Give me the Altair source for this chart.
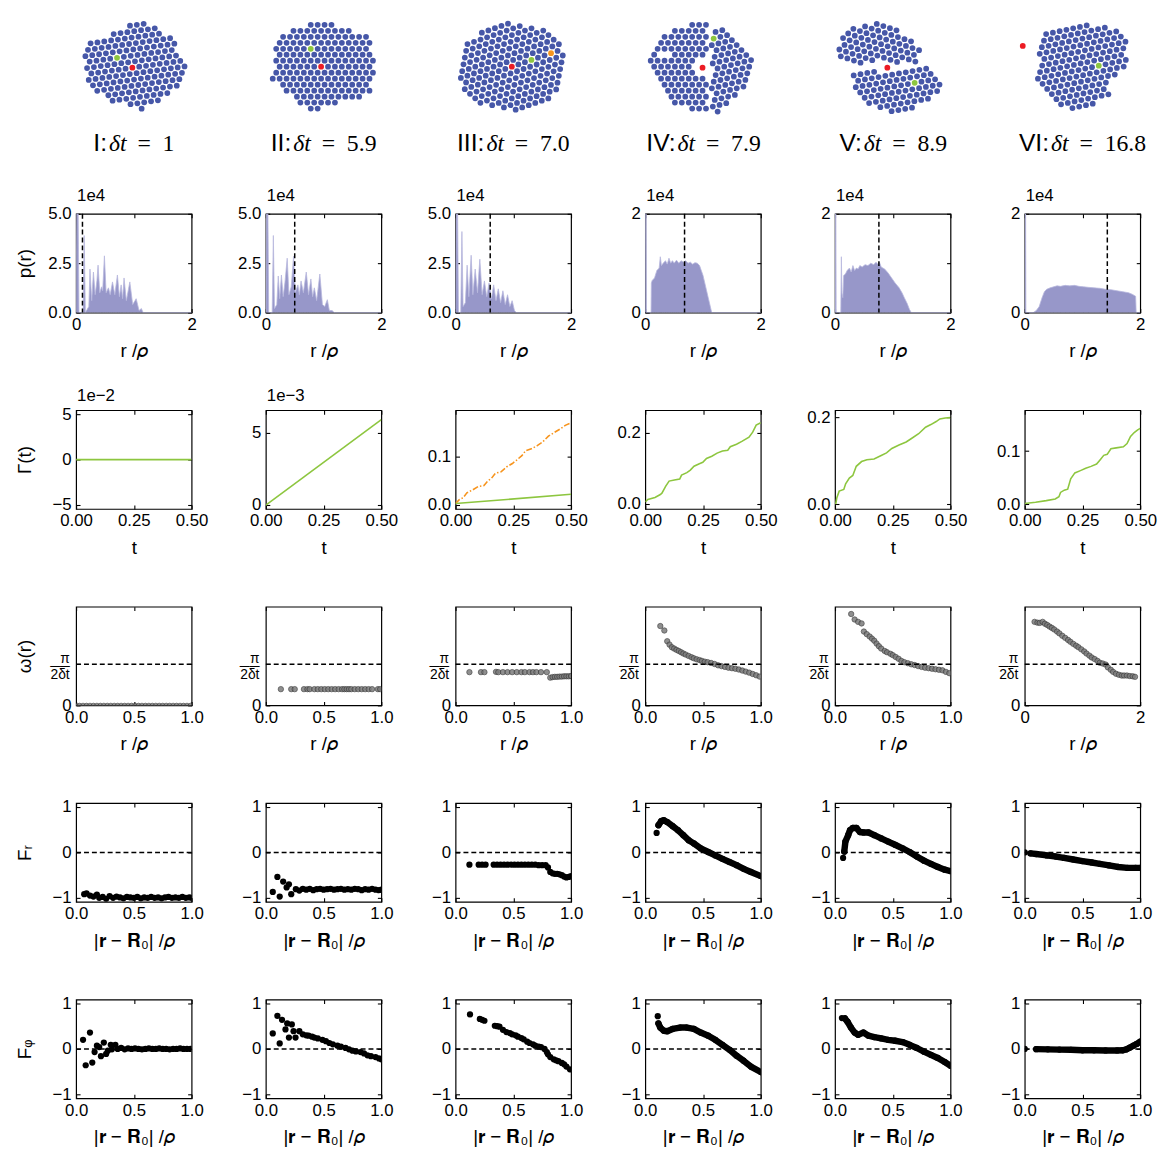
import math
import altair as alt
import pandas as pd

# ---------------- style ----------------
FONT = "Liberation Sans"
SERIF = "Liberation Serif"
W, H = 117, 100
SPX, SPY = 75.2, 99
TICK = 4
LBL, TTL = 17, 19
BLUE, RED, GREEN, ORANGE = "#4657a8", "#ec1c24", "#8dc63f", "#f7941d"
HIST_FILL, HIST_EDGE = "#9797c9", "#b8b8de"

# ---------------- snapshot data (positions in particle-panel units) ----------------
SNAP_ROMAN = ["I", "II", "III", "IV", "V", "VI"]
SNAP_DT = ["1", "5.9", "7.0", "7.9", "8.9", "16.8"]
LATTICE = 7.0

C1_OUTLINE = [(36, 82), (50, 89), (72, 93), (87, 85), (99, 73), (107, 56), (110, 47), (107, 32), (98, 28),
              (79, 13), (64, 8), (50, 13), (35, 18), (20, 25), (14, 34), (11, 52), (8, 70), (19, 74)]
C1_ANGLE = 8
C1_RED, C1_GREEN = (57, 49), (42, 62)

C2_OUTLINE = [(14, 82), (28, 85), (39, 89), (51, 93), (65, 92), (81, 85), (100, 83), (104, 75), (107, 59),
              (111, 45), (106, 32), (102, 23), (93, 21), (77, 18), (69, 14), (51, 7), (42, 9), (35, 16),
              (23, 25), (12, 33), (7, 37), (10, 52), (10, 66), (14, 75)]
C2_ANGLE = 0
C2_RED, C2_GREEN = (56, 50), (47, 66)

C3_OUTLINE = [(20, 80), (37, 90), (57, 93), (77, 91), (94, 85), (107, 72), (111, 55), (108, 38), (97, 22),
              (82, 10), (57, 7), (34, 10), (17, 18), (6, 32), (5, 50), (10, 68)]
C3_ANGLE = 19
C3_RED, C3_GREEN, C3_ORANGE = (57, 50), (78, 58), (98, 64)

C4_GRAIN_A = [(48, 91), (62, 93), (63, 50), (62, 6), (54, 7), (43, 11), (28, 16), (18, 30), (9, 43), (6, 55),
              (9, 67), (18, 77), (27, 84), (38, 89)]
C4_GRAIN_B = [(62, 93), (80, 84), (91, 80), (101, 68), (108, 56), (106, 43), (101, 32), (94, 21), (80, 12),
              (73, 6), (62, 6), (63, 50)]
C4_ANGLES = [0, 14]
C4_ORIGINS = [(30, 50), (80, 50)]
C4_HOLES = [(58, 50, 9), (20, 62, 5)]
C4_RED, C4_GREEN = (58, 49), (68, 81)

C5_GRAIN_UP = [(3, 70), (11, 80), (23, 90), (38, 94), (57, 89), (67, 82), (79, 74), (86, 65), (82, 57),
               (61, 56), (41, 57), (21, 55), (11, 54), (4, 62)]
C5_GRAIN_LOW = [(17, 40), (31, 43), (51, 44), (71, 45), (86, 50), (93, 52), (101, 45), (106, 36), (101, 22),
                (89, 15), (71, 6), (51, 7), (33, 15), (21, 25)]
C5_ANGLES = [-18, 10]
C5_ORIGINS = [(40, 75), (60, 30)]
C5_RED, C5_GREEN = (53, 49), (84, 32)

C6_OUTLINE = [(17, 79), (32, 89), (53, 93), (70, 91), (88, 89), (97, 82), (101, 78), (98, 66), (102, 52),
              (89, 42), (81, 32), (83, 22), (70, 14), (53, 7), (39, 11), (28, 16), (18, 26), (14, 43), (16, 62)]
C6_ANGLE = 12
C6_RED, C6_GREEN = (-2, 71), (75, 51)

# ---------------- p(r) histograms (p in units of 1e4) ----------------
PR1_R = [0, 0.012, 0.035, 0.05, 0.12, 0.14, 0.16, 0.22, 0.24, 0.27, 0.30, 0.33, 0.36, 0.38, 0.41, 0.44, 0.46,
         0.49, 0.52, 0.56, 0.59, 0.63, 0.67, 0.715, 0.75, 0.78, 0.805, 0.83, 0.87, 0.93, 0.98, 1.04, 1.09,
         1.13, 1.16, 2.0]
PR1_P = [0, 5.4, 5.4, 0, 0, 3.9, 0, 0.3, 2.2, 0.6, 2.05, 0.9, 1.6, 2.4, 1.0, 1.3, 1.1, 2.87, 1.0, 1.25, 0.9,
         1.55, 0.9, 1.9, 0.8, 1.4, 0.7, 1.75, 0.6, 1.55, 0.4, 0.7, 0.1, 0.2, 0, 0]
PR2_R = [0, 0.01, 0.035, 0.05, 0.11, 0.13, 0.15, 0.19, 0.215, 0.24, 0.27, 0.30, 0.33, 0.37, 0.40, 0.44, 0.48,
         0.51, 0.555, 0.58, 0.61, 0.65, 0.70, 0.74, 0.78, 0.81, 0.84, 0.88, 0.935, 0.98, 1.02, 1.065, 1.1,
         1.15, 1.18, 2.0]
PR2_P = [0, 5.4, 5.4, 0, 0, 3.9, 0.2, 0.4, 1.85, 0.7, 1.9, 0.8, 1.5, 2.75, 0.9, 1.3, 2.85, 1.0, 1.4, 0.9, 1.6,
         1.0, 2.05, 0.9, 1.7, 0.8, 1.25, 0.6, 1.95, 0.4, 0.3, 0.65, 0.1, 0.1, 0, 0]
PR3_R = [0, 0.01, 0.035, 0.05, 0.09, 0.11, 0.13, 0.17, 0.2, 0.23, 0.27, 0.3, 0.34, 0.38, 0.42, 0.46, 0.5,
         0.54, 0.58, 0.62, 0.66, 0.7, 0.74, 0.78, 0.82, 0.86, 0.9, 0.94, 0.98, 1.02, 1.05, 2.0]
PR3_P = [0, 5.4, 5.4, 0, 0, 4.1, 0.3, 0.5, 2.4, 0.8, 2.9, 0.9, 2.2, 1.0, 2.7, 0.9, 1.6, 0.8, 1.5, 0.7, 1.4,
         0.6, 1.2, 0.5, 1.1, 0.4, 0.9, 0.3, 0.6, 0.1, 0, 0]
PR4_R = [0, 0.005, 0.015, 0.02, 0.1, 0.105, 0.12, 0.16, 0.2, 0.24, 0.26, 0.28, 0.31, 0.35, 0.38, 0.41, 0.44,
         0.47, 0.5, 0.54, 0.58, 0.62, 0.66, 0.7, 0.74, 0.78, 0.82, 0.86, 0.9, 0.94, 0.97, 1.0, 1.03, 1.06,
         1.09, 1.12, 1.15, 2.0]
PR4_P = [0, 2.2, 2.2, 0, 0, 0.6, 0.65, 0.7, 0.85, 0.9, 1.13, 0.95, 1.0, 1.05, 0.98, 1.1, 1.0, 1.05, 1.0,
         1.06, 1.0, 1.05, 1.02, 1.05, 1.0, 1.02, 0.98, 1.01, 1.0, 0.95, 0.85, 0.75, 0.6, 0.45, 0.3, 0.15, 0, 0]
PR5_R = [0, 0.005, 0.015, 0.02, 0.1, 0.11, 0.12, 0.135, 0.15, 0.18, 0.21, 0.25, 0.28, 0.31, 0.34, 0.37, 0.4,
         0.43, 0.47, 0.52, 0.57, 0.62, 0.67, 0.71, 0.74, 0.77, 0.8, 0.86, 0.92, 0.98, 1.04, 1.11, 1.16, 1.2,
         1.25, 1.29, 1.32, 2.0]
PR5_P = [0, 2.2, 2.2, 0, 0, 1.13, 0.4, 0.3, 0.75, 0.78, 0.85, 0.9, 0.82, 0.95, 0.85, 0.9, 0.88, 0.95, 0.92,
         0.97, 0.95, 1.0, 0.97, 1.02, 0.98, 1.02, 0.92, 0.88, 0.8, 0.7, 0.6, 0.5, 0.4, 0.3, 0.18, 0.06, 0, 0]
PR6_R = [0, 0.005, 0.015, 0.02, 0.15, 0.2, 0.25, 0.3, 0.34, 0.38, 0.44, 0.5, 0.56, 0.62, 0.7, 0.78, 0.86,
         0.94, 1.02, 1.1, 1.2, 1.3, 1.4, 1.5, 1.6, 1.7, 1.8, 1.86, 1.92, 1.93, 2.0]
PR6_P = [0, 2.2, 2.2, 0, 0, 0.04, 0.12, 0.3, 0.42, 0.47, 0.5, 0.52, 0.54, 0.53, 0.55, 0.54, 0.55, 0.53, 0.52,
         0.51, 0.5, 0.49, 0.47, 0.46, 0.44, 0.42, 0.4, 0.37, 0.33, 0, 0]
PR_DASH = [0.11, 0.5, 0.6, 0.68, 0.76, 1.43]
PR_YMAX = [5, 5, 5, 2, 2, 2]

# ---------------- Gamma(t) ----------------
G1_T, G1_Y = [0, 0.5], [0, 0]                 # x 1e-2
G2_T, G2_Y = [0, 0.5], [0, 5.9]               # x 1e-3
G3_GREEN_T, G3_GREEN_Y = [0, 0.5], [0.003, 0.022]
G3_ORANGE_T = [0, 0.016, 0.033, 0.049, 0.074, 0.098, 0.123, 0.139, 0.156, 0.172, 0.197, 0.221, 0.246, 0.262,
               0.287, 0.303, 0.328, 0.352, 0.377, 0.402, 0.426, 0.451, 0.475, 0.5]
G3_ORANGE_Y = [0.003, 0.011, 0.015, 0.025, 0.031, 0.038, 0.040, 0.049, 0.055, 0.065, 0.068, 0.078, 0.085,
               0.091, 0.101, 0.111, 0.115, 0.121, 0.129, 0.141, 0.148, 0.155, 0.163, 0.168]
G4_T = [0, 0.011, 0.042, 0.065, 0.072, 0.088, 0.103, 0.126, 0.149, 0.157, 0.180, 0.195, 0.211, 0.234, 0.249,
        0.265, 0.288, 0.311, 0.334, 0.357, 0.368, 0.395, 0.418, 0.449, 0.465, 0.480, 0.5]
G4_Y = [0.0055, 0.012, 0.018, 0.026, 0.030, 0.049, 0.064, 0.067, 0.070, 0.081, 0.088, 0.095, 0.106, 0.113,
        0.117, 0.128, 0.134, 0.143, 0.149, 0.151, 0.161, 0.168, 0.176, 0.188, 0.202, 0.222, 0.229]
G5_T = [0.003, 0.008, 0.018, 0.038, 0.046, 0.062, 0.077, 0.092, 0.115, 0.138, 0.169, 0.200, 0.223, 0.246,
        0.277, 0.308, 0.331, 0.362, 0.392, 0.415, 0.438, 0.454, 0.477, 0.5]
G5_Y = [0, 0.015, 0.030, 0.034, 0.047, 0.060, 0.066, 0.087, 0.098, 0.102, 0.104, 0.112, 0.118, 0.128, 0.136,
        0.143, 0.151, 0.162, 0.177, 0.183, 0.190, 0.196, 0.198, 0.199]
G6_T = [0, 0.047, 0.093, 0.132, 0.148, 0.155, 0.171, 0.186, 0.199, 0.217, 0.241, 0.264, 0.287, 0.311, 0.326,
        0.342, 0.357, 0.373, 0.396, 0.427, 0.443, 0.458, 0.474, 0.489, 0.5]
G6_Y = [0.0012, 0.0037, 0.0067, 0.0098, 0.0141, 0.0221, 0.0264, 0.0282, 0.0479, 0.0589, 0.0632, 0.0675,
        0.0712, 0.0755, 0.0834, 0.0920, 0.0939, 0.1043, 0.1061, 0.1080, 0.1141, 0.1276, 0.1350, 0.1399, 0.1429]
G_YDOM = [[-5.43, 5.43], [-0.27, 6.55], [-0.008, 0.194], [-0.0146, 0.264], [-0.011, 0.216], [-0.009, 0.177]]
G_YTICKS = [[-5, 0, 5], [0, 5], [0, 0.1], [0, 0.2], [0, 0.2], [0, 0.1]]
G_YFMT = ["d", "d", ".1f", ".1f", ".1f", ".1f"]
G_NOTE = ["1e\u22122", "1e\u22123", None, None, None, None]
G_NOTE_DY = [0, -5, 0, 0, 0, 0]

# ---------------- omega(r) (in units of 1/delta t) ----------------
OMEGA_REF = math.pi / 2
W1_X = [0.0, 0.03, 0.06, 0.09, 0.12, 0.15, 0.18, 0.21, 0.24, 0.27, 0.30, 0.33, 0.36, 0.39, 0.42, 0.45, 0.48,
        0.51, 0.54, 0.57, 0.60, 0.63, 0.66, 0.69, 0.72, 0.75, 0.78, 0.81, 0.84, 0.87, 0.90, 0.93, 0.96, 0.99]
W1_Y = [0, 0, 0, 0, 0, 0, 0, 0, 0, 0, 0, 0, 0, 0, 0, 0, 0, 0, 0, 0, 0, 0, 0, 0, 0, 0, 0, 0, 0, 0, 0, 0, 0, 0]
W2_X = [0.13, 0.22, 0.25, 0.33, 0.36, 0.38, 0.42, 0.45, 0.48, 0.51, 0.54, 0.57, 0.60, 0.63, 0.66, 0.68, 0.70,
        0.72, 0.74, 0.77, 0.80, 0.83, 0.86, 0.89, 0.92, 0.97, 0.99]
W2_Y = [0.62, 0.62, 0.62, 0.62, 0.62, 0.62, 0.62, 0.62, 0.62, 0.62, 0.62, 0.62, 0.62, 0.62, 0.62, 0.62, 0.62,
        0.62, 0.62, 0.62, 0.62, 0.62, 0.62, 0.62, 0.62, 0.62, 0.62]
W3_X = [0.12, 0.22, 0.25, 0.35, 0.37, 0.41, 0.45, 0.49, 0.53, 0.57, 0.60, 0.64, 0.67, 0.70, 0.74, 0.79, 0.82,
        0.84, 0.86, 0.88, 0.90, 0.92, 0.94, 0.96, 0.98, 1.0]
W3_Y = [1.27, 1.27, 1.27, 1.28, 1.27, 1.27, 1.27, 1.27, 1.27, 1.27, 1.27, 1.27, 1.27, 1.27, 1.27, 1.27, 1.06,
        1.08, 1.09, 1.09, 1.10, 1.10, 1.11, 1.11, 1.11, 1.12]
W4_X = [0.13, 0.165, 0.19, 0.21, 0.23, 0.25, 0.27, 0.29, 0.31, 0.33, 0.35, 0.375, 0.40, 0.42, 0.445, 0.47,
        0.49, 0.515, 0.54, 0.57, 0.60, 0.63, 0.66, 0.69, 0.72, 0.75, 0.78, 0.81, 0.84, 0.87, 0.90, 0.93, 0.96,
        0.99]
W4_Y = [3.03, 2.86, 2.45, 2.32, 2.22, 2.17, 2.12, 2.08, 2.03, 1.98, 1.94, 1.89, 1.84, 1.80, 1.76, 1.73, 1.70,
        1.67, 1.65, 1.62, 1.58, 1.53, 1.50, 1.47, 1.44, 1.42, 1.40, 1.37, 1.33, 1.29, 1.25, 1.20, 1.15, 1.10]
W5_X = [0.14, 0.17, 0.20, 0.23, 0.25, 0.275, 0.30, 0.32, 0.34, 0.36, 0.38, 0.40, 0.43, 0.45, 0.48, 0.50,
        0.525, 0.55, 0.575, 0.60, 0.63, 0.66, 0.69, 0.72, 0.75, 0.78, 0.81, 0.84, 0.87, 0.90, 0.93, 0.96, 0.99]
W5_Y = [3.49, 3.28, 3.19, 3.13, 2.82, 2.72, 2.63, 2.55, 2.47, 2.36, 2.26, 2.17, 2.08, 2.03, 1.97, 1.92, 1.85,
        1.78, 1.70, 1.65, 1.61, 1.57, 1.54, 1.50, 1.47, 1.44, 1.42, 1.40, 1.38, 1.36, 1.34, 1.28, 1.23]
W6_X = [0.17, 0.22, 0.26, 0.31, 0.35, 0.39, 0.43, 0.47, 0.51, 0.56, 0.60, 0.65, 0.70, 0.75, 0.79, 0.84, 0.89,
        0.93, 0.98, 1.03, 1.07, 1.12, 1.16, 1.21, 1.26, 1.30, 1.35, 1.40, 1.44, 1.49, 1.53, 1.58, 1.63, 1.68,
        1.72, 1.77, 1.82, 1.87, 1.91]
W6_Y = [3.19, 3.16, 3.15, 3.19, 3.12, 3.07, 3.01, 2.96, 2.90, 2.82, 2.75, 2.66, 2.58, 2.50, 2.43, 2.35, 2.28,
        2.22, 2.14, 2.06, 1.98, 1.90, 1.83, 1.77, 1.70, 1.63, 1.60, 1.56, 1.45, 1.36, 1.28, 1.21, 1.17, 1.14,
        1.14, 1.14, 1.12, 1.11, 1.09]
W_XMAX = [1, 1, 1, 1, 1, 2]

# ---------------- F_r ----------------
FR1_X = [0.07, 0.09, 0.12, 0.15, 0.18, 0.2, 0.23, 0.26, 0.29, 0.32, 0.35, 0.38, 0.41, 0.44, 0.47, 0.5, 0.53,
         0.56, 0.59, 0.62, 0.65, 0.68, 0.71, 0.74, 0.77, 0.8, 0.83, 0.86, 0.89, 0.92, 0.95, 0.98, 1.0]
FR1_Y = [-0.92, -0.9, -0.95, -0.97, -0.93, -1.0, -0.98, -1.02, -0.96, -1.0, -0.97, -0.99, -1.01, -0.98, -0.99,
         -1.0, -0.98, -1.01, -0.99, -1.0, -0.98, -1.0, -0.99, -1.01, -0.99, -0.98, -1.0, -0.99, -1.0, -0.98,
         -1.0, -0.99, -1.0]
FR2_X = [0.06, 0.1, 0.12, 0.15, 0.18, 0.2, 0.22, 0.26, 0.29, 0.32, 0.35, 0.38, 0.41, 0.44, 0.47, 0.5, 0.53,
         0.56, 0.59, 0.62, 0.65, 0.68, 0.71, 0.74, 0.77, 0.8, 0.83, 0.86, 0.89, 0.92, 0.95, 0.98, 1.0]
FR2_Y = [-0.87, -0.54, -0.97, -0.64, -0.77, -0.70, -0.92, -0.81, -0.84, -0.8, -0.82, -0.8, -0.83, -0.81, -0.8,
         -0.82, -0.81, -0.8, -0.82, -0.81, -0.8, -0.82, -0.81, -0.82, -0.8, -0.81, -0.83, -0.81, -0.82, -0.8,
         -0.82, -0.83, -0.82]
FR3_X = [0.12, 0.2, 0.23, 0.26, 0.33, 0.36, 0.39, 0.42, 0.45, 0.48, 0.51, 0.54, 0.57, 0.6, 0.63, 0.66, 0.69,
         0.72, 0.75, 0.78, 0.8, 0.82, 0.84, 0.86, 0.88, 0.9, 0.92, 0.94, 0.96, 0.98, 1.0]
FR3_Y = [-0.27, -0.27, -0.27, -0.27, -0.27, -0.27, -0.27, -0.27, -0.27, -0.27, -0.27, -0.27, -0.27, -0.27,
         -0.27, -0.27, -0.27, -0.28, -0.28, -0.28, -0.33, -0.43, -0.46, -0.47, -0.47, -0.48, -0.5, -0.53, -0.55,
         -0.54, -0.52]
FR4_X = [0.098, 0.114, 0.138, 0.16, 0.19, 0.237, 0.283, 0.329, 0.375, 0.42, 0.48, 0.545, 0.606, 0.668, 0.729,
         0.79, 0.852, 0.914, 1.0]
FR4_Y = [0.43, 0.6, 0.69, 0.71, 0.67, 0.58, 0.49, 0.38, 0.27, 0.20, 0.09, 0.01, -0.065, -0.14, -0.21, -0.28,
         -0.36, -0.43, -0.52]
FR5_X = [0.07, 0.08, 0.09, 0.114, 0.13, 0.154, 0.185, 0.215, 0.246, 0.29, 0.34, 0.4, 0.46, 0.52, 0.585,
         0.646, 0.708, 0.77, 0.83, 0.89, 0.95, 1.0]
FR5_Y = [-0.12, 0.02, 0.24, 0.38, 0.49, 0.54, 0.54, 0.45, 0.44, 0.44, 0.38, 0.31, 0.24, 0.17, 0.09, 0.01,
         -0.09, -0.18, -0.25, -0.32, -0.38, -0.41]
FR6_X = [0.0, 0.05, 0.1, 0.19, 0.27, 0.34, 0.42, 0.5, 0.58, 0.65, 0.73, 0.81, 0.89, 0.96, 1.0]
FR6_Y = [0.0, -0.02, -0.035, -0.065, -0.09, -0.12, -0.155, -0.19, -0.22, -0.25, -0.285, -0.32, -0.34, -0.34,
         -0.34]

# ---------------- F_phi ----------------
FP1_X = [0.06, 0.083, 0.12, 0.14, 0.16, 0.18, 0.2, 0.215, 0.24, 0.26, 0.275, 0.3, 0.31, 0.34, 0.36, 0.39,
         0.42, 0.45, 0.48, 0.51, 0.54, 0.57, 0.6, 0.63, 0.66, 0.69, 0.72, 0.75, 0.78, 0.81, 0.84, 0.87, 0.9,
         0.93, 0.96, 0.99]
FP1_Y = [0.2, -0.36, 0.36, -0.3, -0.07, 0.07, 0.04, -0.16, 0.14, -0.11, -0.04, 0.09, -0.01, 0.09, 0.0, 0.02,
         -0.01, 0.01, 0.0, 0.01, 0.0, -0.01, 0.0, 0.01, 0.0, 0.0, 0.01, 0.0, 0.0, -0.01, 0.0, 0.0, 0.01, 0.0,
         0.0, 0.0]
FP2_X = [0.06, 0.1, 0.12, 0.14, 0.17, 0.185, 0.2, 0.225, 0.24, 0.257, 0.29, 0.32, 0.35, 0.37, 0.4, 0.42,
         0.45, 0.49, 0.52, 0.55, 0.58, 0.62, 0.65, 0.69, 0.72, 0.75, 0.78, 0.82, 0.85, 0.88, 0.91, 0.95, 0.98,
         1.0]
FP2_Y = [0.34, 0.73, 0.12, 0.64, 0.43, 0.56, 0.25, 0.54, 0.39, 0.25, 0.39, 0.32, 0.3, 0.29, 0.27, 0.25,
         0.23, 0.2, 0.17, 0.13, 0.1, 0.07, 0.05, 0.02, -0.01, -0.04, -0.055, -0.07, -0.1, -0.14, -0.16, -0.18,
         -0.21, -0.23]
FP3_X = [0.125, 0.21, 0.23, 0.25, 0.34, 0.36, 0.38, 0.41, 0.44, 0.47, 0.49, 0.52, 0.54, 0.57, 0.59, 0.62,
         0.64, 0.67, 0.69, 0.72, 0.74, 0.77, 0.79, 0.8, 0.82, 0.85, 0.87, 0.89, 0.92, 0.94, 0.96, 0.99]
FP3_Y = [0.76, 0.66, 0.64, 0.62, 0.51, 0.5, 0.49, 0.42, 0.37, 0.35, 0.32, 0.3, 0.27, 0.24, 0.21, 0.16, 0.13,
         0.1, 0.07, 0.05, 0.04, 0.0, -0.07, -0.12, -0.18, -0.23, -0.25, -0.27, -0.31, -0.34, -0.39, -0.45]
FP4_X = [0.108, 0.114, 0.13, 0.16, 0.19, 0.237, 0.3, 0.36, 0.42, 0.48, 0.545, 0.606, 0.668, 0.73, 0.79, 0.85,
         0.914, 1.0]
FP4_Y = [0.72, 0.56, 0.47, 0.4, 0.39, 0.44, 0.47, 0.47, 0.44, 0.36, 0.29, 0.2, 0.09, -0.02, -0.15, -0.26,
         -0.39, -0.51]
FP5_X = [0.06, 0.086, 0.108, 0.138, 0.17, 0.2, 0.246, 0.29, 0.34, 0.4, 0.46, 0.52, 0.585, 0.646, 0.708,
         0.77, 0.83, 0.89, 0.95, 1.0]
FP5_Y = [0.68, 0.67, 0.6, 0.47, 0.36, 0.31, 0.36, 0.29, 0.26, 0.23, 0.2, 0.18, 0.15, 0.09, 0.02, -0.06,
         -0.13, -0.2, -0.29, -0.37]
FP6_X = [0.0, 0.1, 0.2, 0.3, 0.4, 0.5, 0.6, 0.7, 0.8, 0.85, 0.88, 0.91, 0.94, 0.97, 1.0]
FP6_Y = [0.0, -0.005, -0.01, -0.015, -0.02, -0.03, -0.03, -0.035, -0.035, -0.03, -0.01, 0.03, 0.07, 0.11,
         0.16]
F_YDOM = [-1.087, 1.087]
F_DENSE = [False, False, False, True, True, True]


# ================= helpers =================
def sq(domain):
    return alt.Scale(domain=list(domain), nice=False, zero=False)


def inside(poly, x, y):
    c = False
    n = len(poly)
    for i in range(n):
        x1, y1 = poly[i]
        x2, y2 = poly[(i + 1) % n]
        if (y1 > y) != (y2 > y):
            xi = x1 + (y - y1) * (x2 - x1) / (y2 - y1)
            if x < xi:
                c = not c
    return c


def seg_dist(px, py, x1, y1, x2, y2):
    dx, dy = x2 - x1, y2 - y1
    L = dx * dx + dy * dy
    t = 0 if L == 0 else max(0, min(1, ((px - x1) * dx + (py - y1) * dy) / L))
    return math.hypot(px - x1 - t * dx, py - y1 - t * dy)


def near(poly, x, y, tol=1.8):
    if inside(poly, x, y):
        return True
    n = len(poly)
    return min(seg_dist(x, y, *poly[i], *poly[(i + 1) % n]) for i in range(n)) < tol


def grain(poly, origin, angle):
    t = math.radians(angle)
    e1 = (LATTICE * math.cos(t), LATTICE * math.sin(t))
    e2 = (LATTICE * math.cos(t + math.pi / 3), LATTICE * math.sin(t + math.pi / 3))
    out = []
    for i in range(-30, 31):
        for j in range(-30, 31):
            x = origin[0] + i * e1[0] + j * e2[0]
            y = origin[1] + i * e1[1] + j * e2[1]
            if -5 < x < W + 5 and -5 < y < H + 5 and near(poly, x, y):
                out.append((x, y))
    return out


def cluster(grains, holes, specials):
    pts = []
    for poly, origin, angle in grains:
        for p in grain(poly, origin, angle):
            if all(math.hypot(p[0] - q[0], p[1] - q[1]) > 5.6 for q in pts):
                pts.append(p)
    pts = [p for p in pts if all(math.hypot(p[0] - hx, p[1] - hy) > hr for hx, hy, hr in holes)]
    spec = []
    for (sx, sy), col in specials:
        best = min(pts, key=lambda q: math.hypot(q[0] - sx, q[1] - sy))
        if math.hypot(best[0] - sx, best[1] - sy) < 4.5:
            pts.remove(best)
            spec.append((best[0], best[1], col))
        else:
            spec.append((sx, sy, col))
    return pts, spec


CLUSTERS = [
    cluster([(C1_OUTLINE, C1_RED, C1_ANGLE)], [], [(C1_RED, RED), (C1_GREEN, GREEN)]),
    cluster([(C2_OUTLINE, C2_RED, C2_ANGLE)], [], [(C2_RED, RED), (C2_GREEN, GREEN)]),
    cluster([(C3_OUTLINE, C3_RED, C3_ANGLE)], [], [(C3_RED, RED), (C3_GREEN, GREEN), (C3_ORANGE, ORANGE)]),
    cluster([(C4_GRAIN_A, C4_ORIGINS[0], C4_ANGLES[0]), (C4_GRAIN_B, C4_ORIGINS[1], C4_ANGLES[1])],
            C4_HOLES, [(C4_RED, RED), (C4_GREEN, GREEN)]),
    cluster([(C5_GRAIN_UP, C5_ORIGINS[0], C5_ANGLES[0]), (C5_GRAIN_LOW, C5_ORIGINS[1], C5_ANGLES[1])],
            [], [(C5_RED, RED), (C5_GREEN, GREEN)]),
    cluster([(C6_OUTLINE, C6_GREEN, C6_ANGLE)], [], [(C6_RED, RED), (C6_GREEN, GREEN)]),
]

TITLE_FS = 24
ROMAN_FS = 25


def snap_panel(k):
    xs, ys = sq([0, W]), sq([0, H])
    blue, spec = CLUSTERS[k]
    dfb = pd.DataFrame(blue, columns=["x", "y"])
    dfs = pd.DataFrame(spec, columns=["x", "y", "c"])
    roman, dt = SNAP_ROMAN[k], SNAP_DT[k]
    wr = (sum(0.667 if ch == "V" else 0.278 for ch in roman) + 0.278) * ROMAN_FS
    wd = 1.2 * TITLE_FS
    we = (0.564 + 0.5 + sum(0.25 if ch == "." else 0.5 for ch in dt)) * TITLE_FS
    split = W / 2 - (wr + 2 + wd + we) / 2 + wr
    ty = -35
    layers = [
        alt.Chart(dfb).mark_circle(size=34, color=BLUE, opacity=1).encode(
            x=alt.X("x:Q", scale=xs, axis=None), y=alt.Y("y:Q", scale=ys, axis=None)),
        alt.Chart(dfs).mark_circle(size=34, opacity=1).encode(
            x=alt.X("x:Q", scale=xs, axis=None), y=alt.Y("y:Q", scale=ys, axis=None),
            color=alt.Color("c:N", scale=None)),
    ]
    for tx, txt, fnt, fs, sty, al in [(split, roman + ":", FONT, ROMAN_FS, "normal", "right"),
                                      (split + 2, "δt", SERIF, TITLE_FS, "italic", "left"),
                                      (split + 2 + wd, "=\u2002" + dt, SERIF, TITLE_FS, "normal", "left")]:
        layers.append(alt.Chart(pd.DataFrame({"x": [tx], "y": [ty], "t": [txt]})).mark_text(
            font=fnt, fontSize=fs, fontStyle=sty, align=al, baseline="alphabetic", color="black").encode(
            x=alt.X("x:Q", scale=xs, axis=None), y=alt.Y("y:Q", scale=ys, axis=None), text="t:N"))
    return alt.layer(*layers).properties(width=W, height=H, view=alt.ViewBackground(stroke="transparent"))


def panel(builders, xdom, ydom, xt, yt, xf, yf, xtitle, ytitle, note=None, note_dy=0, yextra=None):
    xs, ys = sq(xdom), sq(ydom)
    corner = pd.DataFrame({"x": [xdom[0]], "y": [ydom[0]]})
    ykw = dict(orient="left", values=yt, format=yf, offset=-TICK, tickSize=TICK, domain=False, grid=False,
               labelPadding=5, labelOverlap=False, minExtent=34, maxExtent=34, titlePadding=12)
    if yextra:
        ykw.update(yextra)
    main_axes = alt.Chart(corner).mark_point(opacity=0).encode(
        x=alt.X("x:Q", scale=xs, title=xtitle, axis=alt.Axis(
            orient="bottom", values=xt, format=xf, offset=-TICK, tickSize=TICK, domain=False, grid=False,
            labelPadding=4, labelFlush=False, labelOverlap=False, titlePadding=10)),
        y=alt.Y("y:Q", scale=ys, title=ytitle, axis=alt.Axis(**ykw)))
    frame_axes = alt.Chart(corner).mark_point(opacity=0).encode(
        x=alt.X("x:Q", scale=xs, title=None, axis=alt.Axis(
            orient="top", values=xt, labels=False, offset=-TICK, tickSize=TICK, domain=False, grid=False)),
        y=alt.Y("y:Q", scale=ys, title=None, axis=alt.Axis(
            orient="right", values=yt, labels=False, offset=-TICK, tickSize=TICK, domain=False, grid=False)))
    layers = [b(xs, ys) for b in builders]
    ch = alt.layer(main_axes, *layers, frame_axes).resolve_axis(x="independent", y="independent")
    ch = ch.properties(width=W, height=H)
    if note:
        ch = ch.properties(title=alt.TitleParams(note, anchor="start", frame="group", dx=1, dy=note_dy,
                                                 fontSize=LBL, font=FONT, fontWeight="normal", offset=0,
                                                 color="black"))
    return ch


def xy(df, xs, ys, xf="x", yf="y"):
    return dict(x=alt.X(f"{xf}:Q", scale=xs, axis=None), y=alt.Y(f"{yf}:Q", scale=ys, axis=None))


def area_b(r, p):
    df = pd.DataFrame({"x": r, "y": p})
    return lambda xs, ys: alt.Chart(df).mark_area(
        color=HIST_FILL, opacity=1, clip=True, stroke=HIST_EDGE, strokeWidth=0.8, interpolate="linear"
    ).encode(**xy(df, xs, ys))


def vrule_b(x):
    df = pd.DataFrame({"x": [x]})
    return lambda xs, ys: alt.Chart(df).mark_rule(color="black", strokeWidth=1.5, strokeDash=[5, 3]).encode(
        x=alt.X("x:Q", scale=xs, axis=None))


def hrule_b(y):
    df = pd.DataFrame({"y": [y]})
    return lambda xs, ys: alt.Chart(df).mark_rule(color="black", strokeWidth=1.5, strokeDash=[5, 3]).encode(
        y=alt.Y("y:Q", scale=ys, axis=None))


def line_b(t, v, color, width=1.6, dash=None):
    df = pd.DataFrame({"x": t, "y": v})

    def f(xs, ys):
        kw = dict(color=color, strokeWidth=width, clip=True)
        if dash:
            kw["strokeDash"] = dash
        return alt.Chart(df).mark_line(**kw).encode(**xy(df, xs, ys))
    return f


def thick_b(t, v):
    df = pd.DataFrame({"x": t, "y": v})
    return lambda xs, ys: alt.Chart(df).mark_line(color="black", strokeWidth=6.5, strokeCap="round",
                                                  strokeJoin="round", clip=True).encode(**xy(df, xs, ys))


def dots_b(t, v, fill, size, stroke=None, opacity=1.0):
    df = pd.DataFrame({"x": t, "y": v})

    def f(xs, ys):
        kw = dict(size=size, color=fill, opacity=opacity, clip=True)
        if stroke:
            kw.update(stroke=stroke, strokeWidth=0.7)
        return alt.Chart(df).mark_circle(**kw).encode(**xy(df, xs, ys))
    return f


# ================= rows =================
R_TITLE = "r /\U0001D70C"
XT_F = "|\U0001D42B \u2212 \U0001D411\u2080| /\U0001D70C"

row0 = [snap_panel(k) for k in range(6)]

PR_R = [PR1_R, PR2_R, PR3_R, PR4_R, PR5_R, PR6_R]
PR_P = [PR1_P, PR2_P, PR3_P, PR4_P, PR5_P, PR6_P]
row1 = []
for k in range(6):
    big = PR_YMAX[k] == 5
    row1.append(panel([area_b(PR_R[k], PR_P[k]), vrule_b(PR_DASH[k])], [0, 2], [0, PR_YMAX[k]],
                      [0, 1, 2], [0, 2.5, 5] if big else [0, 1, 2], "d", ".1f" if big else "d",
                      R_TITLE, "p(r)" if k == 0 else None, note="1e4"))

G_LAYERS = [
    [line_b(G1_T, G1_Y, GREEN)],
    [line_b(G2_T, G2_Y, GREEN)],
    [line_b(G3_ORANGE_T, G3_ORANGE_Y, ORANGE, 1.6, [6, 2, 1.5, 2]), line_b(G3_GREEN_T, G3_GREEN_Y, GREEN)],
    [line_b(G4_T, G4_Y, GREEN)],
    [line_b(G5_T, G5_Y, GREEN)],
    [line_b(G6_T, G6_Y, GREEN)],
]
row2 = [panel(G_LAYERS[k], [0, 0.5], G_YDOM[k], [0, 0.25, 0.5], G_YTICKS[k], ".2f", G_YFMT[k],
              "t", "Γ(t)" if k == 0 else None, note=G_NOTE[k], note_dy=G_NOTE_DY[k]) for k in range(6)]

OMEGA_LABEL = ("datum.value == 0 ? '0' : ['\u03c0\u00a0\u00a0\u00a0', '\u2500\u2500', '2\u03b4t']")
OMEGA_AXIS = dict(
    labelExpr=OMEGA_LABEL, labelLineHeight=8,
    labelFontSize={"condition": {"test": "datum.value == 0", "value": LBL}, "value": 14},
    labelOffset={"condition": {"test": "datum.value == 0", "value": 0}, "value": -6},
    labelPadding={"condition": {"test": "datum.value == 0", "value": 5}, "value": 7})
W_X = [W1_X, W2_X, W3_X, W4_X, W5_X, W6_X]
W_Y = [W1_Y, W2_Y, W3_Y, W4_Y, W5_Y, W6_Y]
row3 = []
for k in range(6):
    two = W_XMAX[k] == 2
    row3.append(panel([dots_b(W_X[k], W_Y[k], "#7c7c7c", 20 if k == 0 else 30, stroke="#303030", opacity=0.85),
                       hrule_b(OMEGA_REF)],
                      [0, W_XMAX[k]], [0, 3.77], [0, 1, 2] if two else [0, 0.5, 1], [0, OMEGA_REF],
                      "d" if two else ".1f", ".2f", R_TITLE, "ω(r)" if k == 0 else None, yextra=OMEGA_AXIS))

FR_X = [FR1_X, FR2_X, FR3_X, FR4_X, FR5_X, FR6_X]
FR_Y = [FR1_Y, FR2_Y, FR3_Y, FR4_Y, FR5_Y, FR6_Y]
FP_X = [FP1_X, FP2_X, FP3_X, FP4_X, FP5_X, FP6_X]
FP_Y = [FP1_Y, FP2_Y, FP3_Y, FP4_Y, FP5_Y, FP6_Y]


def f_row(XS, YS, ylab):
    out = []
    for k in range(6):
        b = [hrule_b(0)]
        if F_DENSE[k]:
            b.append(thick_b(XS[k][1:], YS[k][1:]))
        b.append(dots_b(XS[k], YS[k], "black", 40))
        out.append(panel(b, [0, 1], F_YDOM, [0, 0.5, 1], [-1, 0, 1], ".1f", "d", XT_F,
                         ylab if k == 0 else None))
    return out


row4 = f_row(FR_X, FR_Y, "F\u1d63")
row5 = f_row(FP_X, FP_Y, "F\u1d69")

chart = alt.concat(*(row0 + row1 + row2 + row3 + row4 + row5), columns=6,
                   spacing={"row": SPY, "column": SPX}, bounds="flush").properties(
    padding={"left": 7, "top": 1, "right": 0, "bottom": 0}
).configure_view(stroke="black", strokeWidth=1.2).configure_axis(
    labelFont=FONT, labelFontSize=LBL, titleFont=FONT, titleFontSize=TTL, titleFontWeight="normal",
    labelColor="black", titleColor="black", tickColor="black", tickWidth=1.1
).configure_title(color="black")

chart.save("out.html", embed_options={"renderer": "svg", "actions": False})
